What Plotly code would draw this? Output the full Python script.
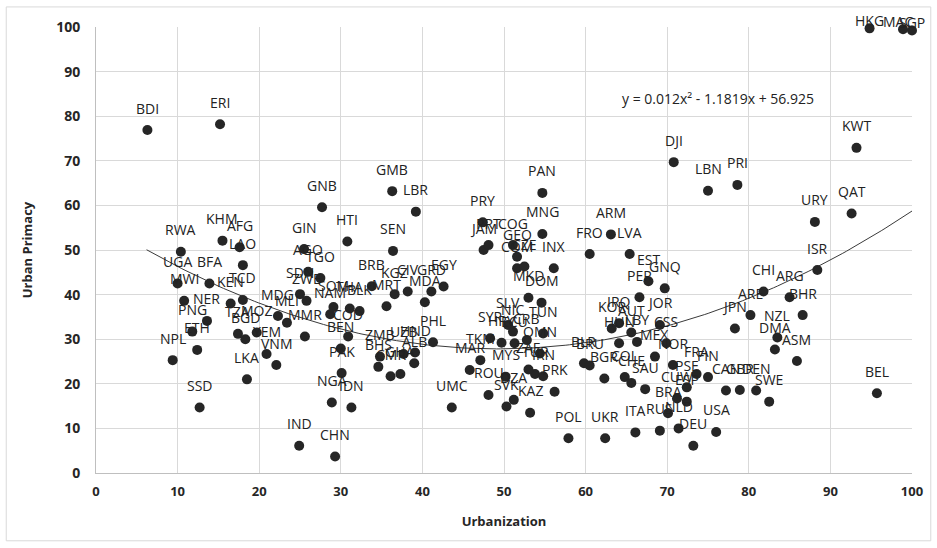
import numpy as np
import plotly.graph_objects as go

codes = ["BDI","ERI","RWA","KHM","AFG","LAO","UGA","BFA","MWI","KEN","TCD","NER","PNG","ETH","NPL","SSD",
         "TZA","BGD","MOZ","YEM","VNM","LKA","MDG","MLI","MMR","SDN","ZWE","GIN","AGO","TGO","GNB","HTI",
         "GMB","LBR","SEN","SOM","NAM","THA","BLK","BEN","COD","PAK","NGA","IDN","IND","CHN","BRB","KGZ",
         "CIV","GRD","EGY","MRT","MDA","ZMB","BHS","UZB","HND","ALB","CMR","GHA","PHL","UMC","TKM","MAR",
         "ROU","SVK","DZA","KAZ","PRK","POL","UKR","ITA","MYS","TUR","IRN","ZAF","OMN","SYR","HRV","ECU",
         "CRB","SLV","NIC","TUN","PAN","PRY","JAM","PRT","COG","GEO","COM","CZE","MNG","INX","MKD","DOM",
         "FRO","ARM","LVA","EST","PER","GNQ","IRQ","KOR","AUT","HUN","LBY","JOR","CSS","MEX","NOR","BLR",
         "BRU","BGR","COL","CHE","SAU","FRA","FIN","PSE","CUW","ESP","BRA","RUS","NLD","DEU","USA","CAN",
         "GBR","DEN","SWE","DJI","LBN","PRI","URY","ISR","CHI","ARG","BHR","ARE","JPN","NZL","DMA","ASM",
         "BEL","HKG","MAC","SGP","KWT","QAT"]
urbanization = [6.3,15.2,10.4,15.5,17.6,18.0,10.0,13.9,10.8,16.5,18.0,13.6,11.8,12.4,9.4,12.7,
                17.4,18.3,19.7,20.9,22.1,18.5,22.3,23.4,25.6,25.0,25.8,25.5,26.0,27.5,27.7,30.8,
                36.3,39.2,36.4,29.1,28.7,31.1,32.3,30.0,30.9,30.1,28.9,31.3,24.9,29.3,33.8,36.6,
                38.2,41.1,42.6,35.6,40.3,34.8,34.6,37.7,39.1,39.0,36.1,37.3,41.3,43.6,47.1,45.8,
                48.1,50.3,51.2,53.2,56.2,57.9,62.4,66.1,50.2,53.8,54.8,53.0,54.4,48.3,49.7,51.3,
                52.8,50.5,51.1,54.8,54.7,47.4,47.5,48.1,51.1,51.6,51.6,52.5,54.7,56.1,53.0,54.6,
                60.5,63.1,65.4,67.7,66.6,69.7,64.1,63.2,65.6,64.1,66.3,69.1,69.9,68.5,70.7,59.8,
                60.5,62.3,64.8,65.6,67.3,73.6,75.0,72.4,71.2,72.4,70.1,69.1,71.4,73.2,76.0,77.2,
                78.9,80.9,82.5,70.8,75.0,78.6,88.1,88.4,81.8,85.0,86.6,80.2,78.3,83.5,83.2,85.9,
                95.7,94.8,98.9,100.0,93.2,92.6]
primacy = [76.9,78.2,49.6,52.1,50.6,46.6,42.5,42.5,38.6,38.0,38.8,34.1,31.7,27.6,25.3,14.7,
           31.2,30.0,31.5,26.7,24.2,21.0,35.2,33.7,30.6,40.1,38.6,50.2,45.1,43.7,59.6,51.9,
           63.2,58.6,49.8,37.2,35.6,36.9,36.3,27.9,30.6,22.4,15.8,14.7,6.1,3.7,41.9,40.1,
           40.7,40.7,41.8,37.4,38.3,26.1,23.8,26.7,27.0,24.6,21.7,22.2,29.3,14.7,25.3,23.1,
           17.5,14.9,16.4,13.5,18.2,7.8,7.8,9.1,21.6,22.2,21.7,23.2,26.8,30.2,29.2,29.1,
           29.8,33.2,31.7,31.3,62.8,56.2,50.0,51.1,51.1,48.5,45.9,46.3,53.6,45.9,39.3,38.2,
           49.1,53.5,49.1,43.0,39.4,41.4,33.6,32.4,31.5,29.1,29.4,33.2,29.1,26.1,24.2,24.6,
           24.1,21.2,21.5,20.2,18.8,22.2,21.5,19.2,16.7,16.0,13.4,9.5,10.0,6.1,9.2,18.5,
           18.6,18.5,16.0,69.7,63.3,64.6,56.3,45.5,40.7,39.4,35.4,35.4,32.4,30.4,27.7,25.1,
           17.9,99.7,99.5,99.2,72.9,58.2]

# Trendline shown on the chart: y = 0.012x^2 - 1.1819x + 56.925
trend_coef = [0.012, -1.1819, 56.925]
trend_x_start, trend_x_end = 6.2, 100.0

x_ticks = list(range(0, 101, 10))
y_ticks = list(range(0, 101, 10))

fig = go.Figure()

tx = np.linspace(trend_x_start, trend_x_end, 200)
fig.add_trace(go.Scatter(x=tx, y=np.polyval(trend_coef, tx), mode="lines",
                         line=dict(color="#3a3a3a", width=1), hoverinfo="skip", showlegend=False))

fig.add_trace(go.Scatter(x=urbanization, y=primacy, mode="markers",
                         marker=dict(size=10, color="#262626"), showlegend=False, cliponaxis=False))

font_lbl = dict(family="Open Sans", size=14, color="#222222")
for c, xv, yv in zip(codes, urbanization, primacy):
    # labels sit above their points; at the very top they are squeezed down inside the frame
    shift = 8 if yv > 95 else 22
    xs = -5 if c == "MAC" else 0
    fig.add_annotation(x=xv, y=yv, text=c, showarrow=False, yshift=shift, xshift=xs,
                       xanchor="center", yanchor="middle", font=font_lbl)

fig.add_annotation(x=76.2, y=83.9, text="y = 0.012x² - 1.1819x + 56.925", showarrow=False,
                   font=dict(family="Open Sans", size=14, color="#222222"))

# outer chart frame
fig.add_shape(type="rect", xref="paper", yref="paper", x0=-0.110, x1=1.023, y0=-0.152, y1=1.045,
              line=dict(color="#d9d9d9", width=1), fillcolor="rgba(0,0,0,0)", layer="below")

fig.update_xaxes(range=[0, 100], tickvals=x_ticks, showgrid=True, gridcolor="#d9d9d9", gridwidth=1,
                 zeroline=False, showline=True, linecolor="#bfbfbf", ticks="", ticklabelstandoff=6,
                 tickfont=dict(family="Open Sans", size=13, color="#262626", weight="bold"),
                 title=dict(text="Urbanization", standoff=18,
                            font=dict(family="Open Sans", size=13, color="#262626", weight="bold")))
fig.update_yaxes(range=[0, 100], tickvals=y_ticks, showgrid=True, gridcolor="#d9d9d9", gridwidth=1,
                 zeroline=False, showline=True, linecolor="#bfbfbf", ticks="", ticklabelstandoff=12,
                 tickfont=dict(family="Open Sans", size=14, color="#262626", weight="bold"),
                 title=dict(text="Urban Primacy", standoff=20,
                            font=dict(family="Open Sans", size=13, color="#262626", weight="bold")))

fig.update_layout(width=937, height=548, margin=dict(l=96, r=25, t=27, b=75),
                  plot_bgcolor="white", paper_bgcolor="white")

fig.write_html("out.html", config={"displayModeBar": False},
               post_script="document.body.style.margin='0';document.body.style.padding='0';document.body.style.overflow='hidden';")
